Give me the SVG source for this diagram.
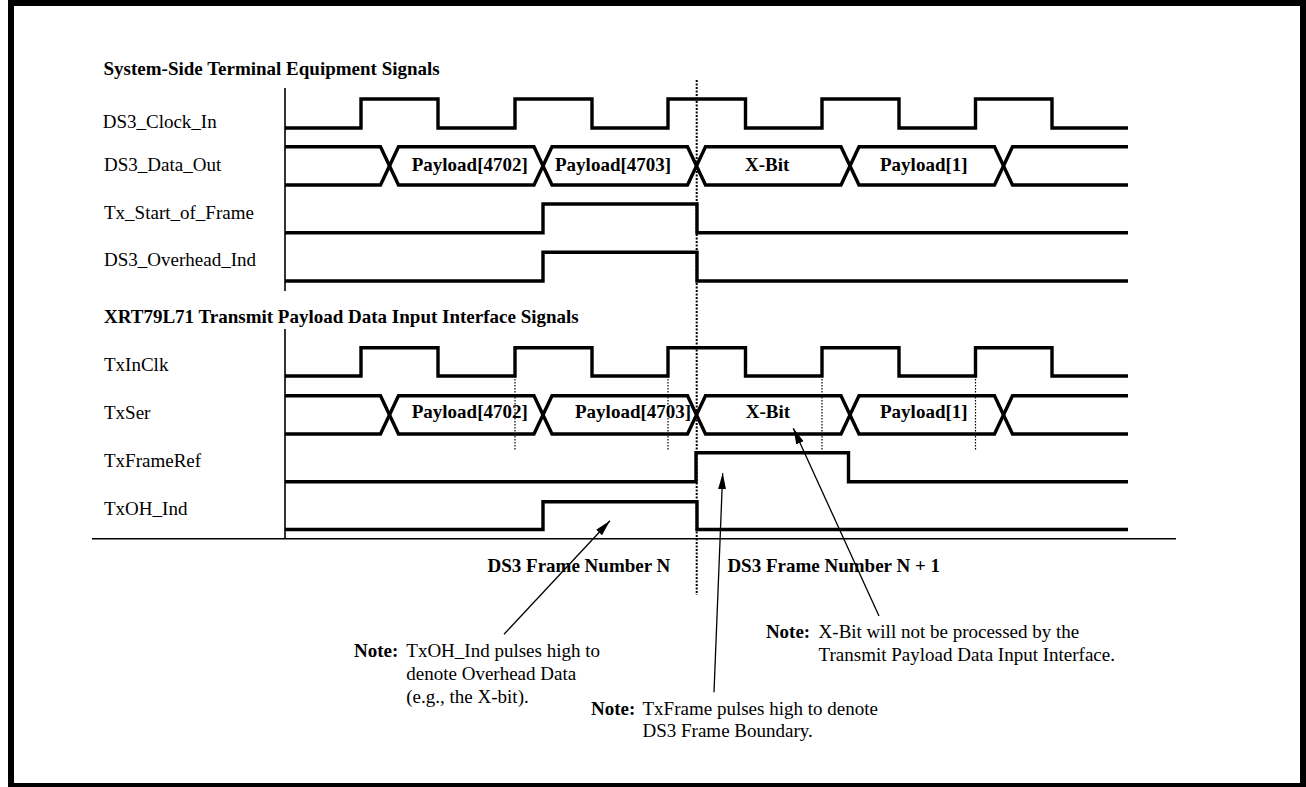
<svg xmlns="http://www.w3.org/2000/svg" width="1306" height="787" viewBox="0 0 1306 787">
  <style>
    text { font-family: "Liberation Serif", "Times New Roman", serif; font-size: 19px; fill: #000; }
    .b { font-weight: bold; }
    .wave { fill: none; stroke: #000; stroke-width: 3.4; stroke-linejoin: miter; stroke-linecap: butt; }
    .axis { fill: none; stroke: #000; stroke-width: 1.6; }
    .tick { fill: none; stroke: #000; stroke-width: 1.2; stroke-dasharray: 1.5 1.5; }
    .frame-div { fill: none; stroke: #000; stroke-width: 2; stroke-dasharray: 2 1.5; }
    .arrow { fill: none; stroke: #000; stroke-width: 1.3; marker-end: url(#head); }
  </style>
  <defs>
    <marker id="head" viewBox="0 0 16 10" refX="16" refY="5" markerWidth="16" markerHeight="10" markerUnits="userSpaceOnUse" orient="auto">
      <path d="M0,1 L16,5 L0,9 z" fill="#000"/>
    </marker>
  </defs>

  <rect x="0" y="0" width="1306" height="787" fill="#fff"/>
  <!-- outer frame -->
  <rect x="11" y="3" width="1292" height="783" fill="none" stroke="#000" stroke-width="6"/>

  <!-- axes (signal-name divider is interrupted by the second heading) -->
  <g id="axes">
    <line class="axis" x1="285" y1="88" x2="285" y2="291"/>
    <line class="axis" x1="285" y1="329" x2="285" y2="539"/>
    <line class="axis" x1="92" y1="538.7" x2="1176" y2="538.7"/>
  </g>

  <!-- section headings -->
  <text id="heading-system" class="b" x="103.5" y="74.5">System-Side Terminal Equipment Signals</text>
  <text id="heading-xrt" class="b" x="104" y="322.7">XRT79L71 Transmit Payload Data Input Interface Signals</text>

  <!-- system-side signals -->
  <g id="ds3-clock-in">
    <text x="102.7" y="127.7">DS3_Clock_In</text>
    <path class="wave" d="M285,128 H361 V99 H438 V128 H515 V99 H592 V128 H668 V99 H745.5 V128 H822 V99 H899 V128 H975.5 V99 H1052 V128 H1128"/>
  </g>

  <g id="ds3-data-out">
    <text x="104" y="171">DS3_Data_Out</text>
    <path class="wave" d="M285,146.7 H380.5 L398.5,185 H534 L552,146.7 H687.5 L705.5,185 H841 L859,146.7 H994.5 L1012.5,185 H1128"/>
    <path class="wave" d="M285,185 H380.5 L398.5,146.7 H534 L552,185 H687.5 L705.5,146.7 H841 L859,185 H994.5 L1012.5,146.7 H1128"/>
    <text class="b" x="411.7" y="171">Payload[4702]</text>
    <text class="b" x="555" y="171">Payload[4703]</text>
    <text class="b" x="745" y="171">X-Bit</text>
    <text class="b" x="880" y="171">Payload[1]</text>
  </g>

  <g id="tx-start-of-frame">
    <text x="104" y="219">Tx_Start_of_Frame</text>
    <path class="wave" d="M285,232.7 H543 V204 H697 V232.7 H1128"/>
  </g>

  <g id="ds3-overhead-ind">
    <text x="104" y="265.7">DS3_Overhead_Ind</text>
    <path class="wave" d="M285,281 H543 V252.3 H697 V281 H1128"/>
  </g>

  <!-- XRT79L71 interface signals -->
  <g id="txinclk">
    <text x="104" y="371">TxInClk</text>
    <path class="wave" d="M285,376 H361 V347.7 H438 V376 H515 V347.7 H592 V376 H668 V347.7 H745.5 V376 H822 V347.7 H899 V376 H975.5 V347.7 H1052 V376 H1128"/>
    <!-- sampling edges -->
    <line class="tick" x1="515" y1="376" x2="515" y2="450"/>
    <line class="tick" x1="668" y1="376" x2="668" y2="450"/>
    <line class="tick" x1="822" y1="376" x2="822" y2="450"/>
    <line class="tick" x1="975.5" y1="376" x2="975.5" y2="450"/>
  </g>

  <g id="txser">
    <text x="104" y="419">TxSer</text>
    <path class="wave" d="M285,395.7 H380.5 L398.5,434 H534 L552,395.7 H687.5 L705.5,434 H841 L859,395.7 H994.5 L1012.5,434 H1128"/>
    <path class="wave" d="M285,434 H380.5 L398.5,395.7 H534 L552,434 H687.5 L705.5,395.7 H841 L859,434 H994.5 L1012.5,395.7 H1128"/>
    <text class="b" x="411.7" y="418.3">Payload[4702]</text>
    <text class="b" x="575" y="418.3">Payload[4703]</text>
    <text class="b" x="745.7" y="418.3">X-Bit</text>
    <text class="b" x="880" y="418.3">Payload[1]</text>
  </g>

  <g id="txframeref">
    <text x="104" y="467.3">TxFrameRef</text>
    <path class="wave" d="M285,481.7 H696 V452.7 H848.5 V481.7 H1128"/>
  </g>

  <g id="txoh-ind">
    <text x="104" y="515">TxOH_Ind</text>
    <path class="wave" d="M285,529.5 H543 V501.7 H697 V529.5 H1128"/>
  </g>

  <!-- frame boundary -->
  <g id="frame-boundary">
    <line class="frame-div" x1="696.7" y1="80" x2="696.7" y2="595"/>
    <text class="b" x="487.5" y="571.7">DS3 Frame Number N</text>
    <text class="b" x="727.4" y="571.7">DS3 Frame Number N + 1</text>
  </g>

  <!-- notes -->
  <g id="note-txoh">
    <text x="354" y="656.7"><tspan class="b">Note:</tspan><tspan x="406.3">TxOH_Ind pulses high to</tspan></text>
    <text x="406.3" y="680">denote Overhead Data</text>
    <text x="406.3" y="702.7">(e.g., the X-bit).</text>
  </g>
  <g id="note-txframe">
    <text x="591" y="715"><tspan class="b">Note:</tspan><tspan x="642.5">TxFrame pulses high to denote</tspan></text>
    <text x="642.5" y="736.7">DS3 Frame Boundary.</text>
  </g>
  <g id="note-xbit">
    <text x="765.9" y="638.3"><tspan class="b">Note:</tspan><tspan x="818.6">X-Bit will not be processed by the</tspan></text>
    <text x="818.6" y="660.7">Transmit Payload Data Input Interface.</text>
  </g>

  <!-- connectors -->
  <g id="connectors">
    <line class="arrow" x1="504" y1="634.3" x2="610" y2="520.7"/>
    <line class="arrow" x1="714" y1="692.3" x2="722.7" y2="473.3"/>
    <line class="arrow" x1="879" y1="616" x2="793.3" y2="428.3"/>
  </g>
</svg>
